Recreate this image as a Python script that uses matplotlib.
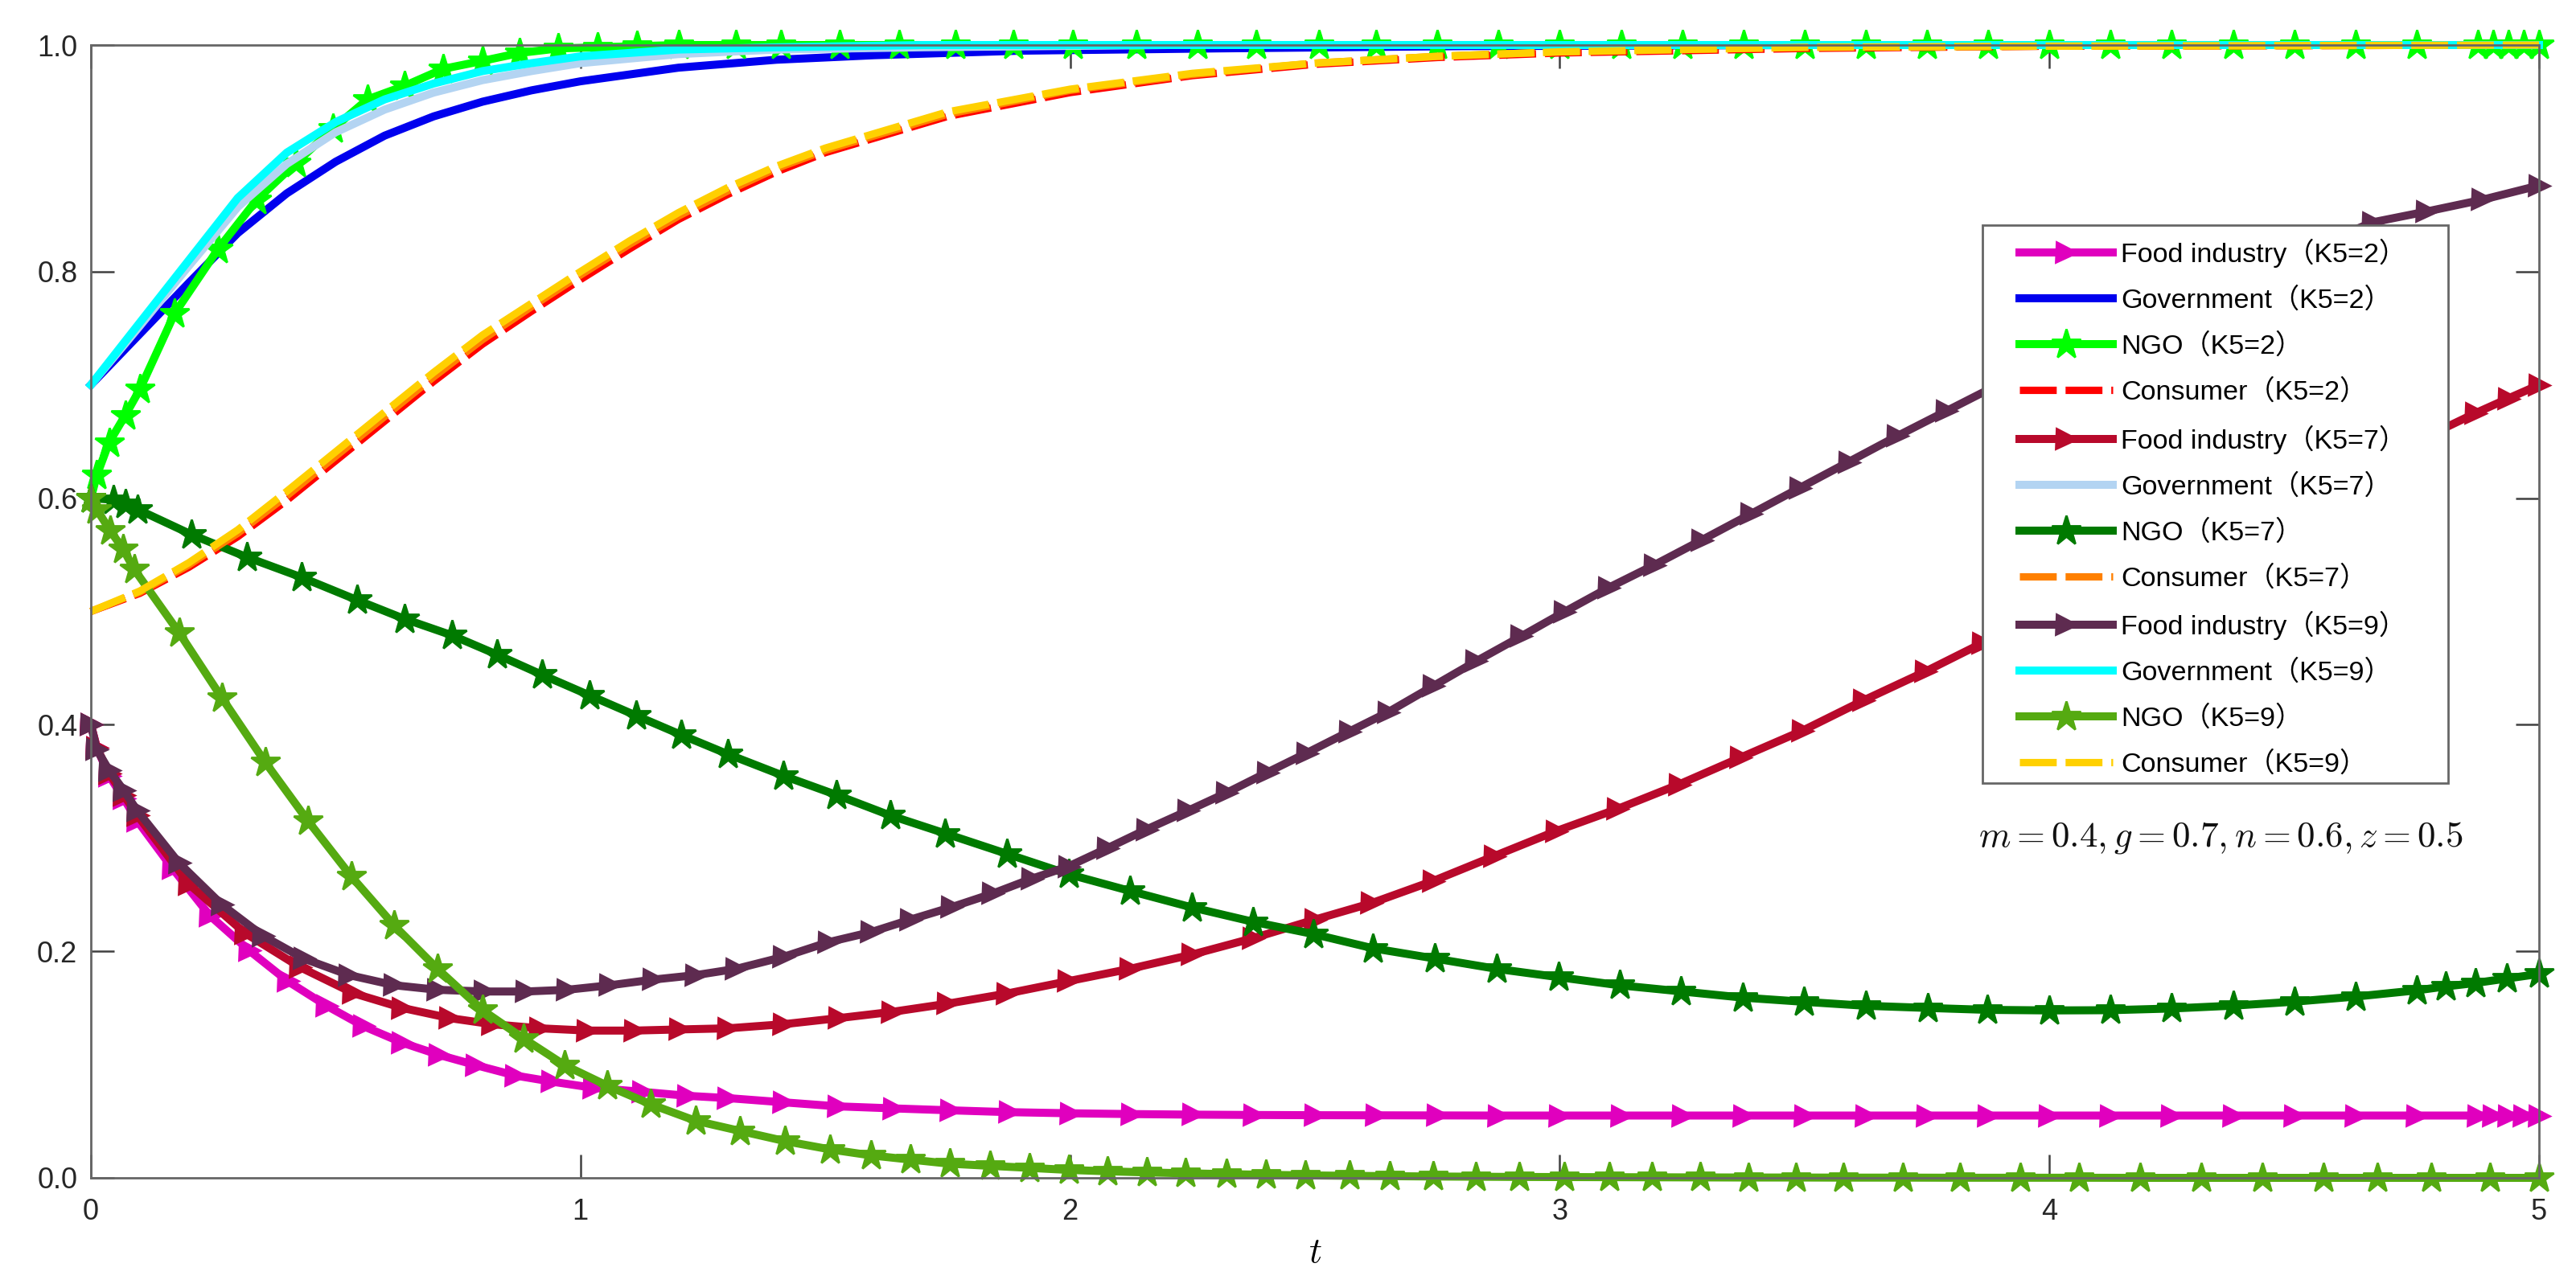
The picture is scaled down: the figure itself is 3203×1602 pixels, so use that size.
import matplotlib
matplotlib.use("Agg")
import matplotlib.pyplot as plt
from matplotlib.patches import Rectangle

plt.rcParams['font.family'] = ['Liberation Sans', 'Noto Sans CJK SC', 'DejaVu Sans']
plt.rcParams['mathtext.fontset'] = 'cm'

# ---------------- data ----------------
labels = ["Food industry（K5=2）", "Government（K5=2）", "NGO（K5=2）", "Consumer（K5=2）",
          "Food industry（K5=7）", "Government（K5=7）", "NGO（K5=7）", "Consumer（K5=7）",
          "Food industry（K5=9）", "Government（K5=9）", "NGO（K5=9）", "Consumer（K5=9）"]

# Food industry K5=2
t_food2 = [0, 0.012, 0.037, 0.067, 0.095, 0.167, 0.243, 0.323, 0.402, 0.481, 0.557, 0.636, 0.712,
           0.787, 0.867, 0.942, 1.026, 1.127, 1.219, 1.301, 1.414, 1.526, 1.64, 1.756, 1.875,
           2.0, 2.125, 2.25, 2.375, 2.5, 2.625, 2.75, 2.875, 3.0, 3.125, 3.25, 3.375, 3.5, 3.625,
           3.75, 3.875, 4.0, 4.125, 4.25, 4.375, 4.5, 4.625, 4.75, 4.875, 4.906, 4.938, 4.969, 5.0]
y_food2 = [0.4, 0.38, 0.355, 0.335, 0.315, 0.273, 0.2315, 0.2008, 0.1736, 0.152, 0.1338, 0.1193, 0.1084,
           0.0994, 0.0903, 0.0849, 0.0795, 0.0759, 0.0724, 0.0704, 0.0667, 0.0631, 0.0613, 0.0596, 0.058,
           0.057, 0.0563, 0.0558, 0.0555, 0.0553, 0.0552, 0.0551, 0.055, 0.055, 0.055, 0.055, 0.055, 0.055, 0.055,
           0.055, 0.055, 0.055, 0.055, 0.055, 0.055, 0.055, 0.055, 0.055, 0.055, 0.055, 0.055, 0.055, 0.055]

# Food industry K5=7
t_food7 = [0, 0.012, 0.037, 0.067, 0.095, 0.201, 0.315, 0.427, 0.536, 0.636, 0.733, 0.82, 0.917,
           1.014, 1.11, 1.202, 1.301, 1.414, 1.527, 1.636, 1.749, 1.871, 1.996, 2.122, 2.248, 2.374,
           2.5, 2.615, 2.741, 2.866, 2.992, 3.118, 3.244, 3.369, 3.495, 3.621, 3.747, 3.864, 3.99,
           4.115, 4.24, 4.365, 4.49, 4.62, 4.75, 4.87, 4.937, 5.0]
y_food7 = [0.4, 0.38, 0.357, 0.338, 0.32, 0.259, 0.216, 0.186, 0.163, 0.15, 0.141, 0.1356, 0.132,
           0.130, 0.130, 0.131, 0.132, 0.1356, 0.141, 0.1465, 0.1537, 0.1627, 0.1736, 0.1845, 0.197, 0.2116,
           0.228, 0.2424, 0.262, 0.284, 0.306, 0.3257, 0.3474, 0.371, 0.3946, 0.4216, 0.447, 0.4723, 0.497,
           0.522, 0.547, 0.572, 0.597, 0.623, 0.650, 0.675, 0.688, 0.70]

# Food industry K5=9
t_food9 = [0, 0.012, 0.037, 0.067, 0.095, 0.18, 0.268, 0.352, 0.435, 0.527, 0.62, 0.708, 0.804,
           0.888, 0.972, 1.06, 1.148, 1.236, 1.318, 1.414, 1.506, 1.594, 1.674, 1.758, 1.842, 1.921,
           1.997, 2.076, 2.156, 2.24, 2.32, 2.403, 2.483, 2.57, 2.649, 2.741, 2.829, 2.921, 3.009,
           3.1, 3.193, 3.29, 3.39, 3.49, 3.59, 3.69, 3.79, 3.89, 3.99, 4.09, 4.2, 4.31, 4.42, 4.54,
           4.66, 4.77, 4.884, 5.0]
y_food9 = [0.4, 0.378, 0.36, 0.342, 0.324, 0.278, 0.241, 0.2135, 0.1935, 0.179, 0.17, 0.166, 0.1645,
           0.1645, 0.166, 0.17, 0.175, 0.179, 0.1845, 0.195, 0.208, 0.217, 0.228, 0.239, 0.251, 0.264,
           0.275, 0.291, 0.3076, 0.324, 0.34, 0.358, 0.375, 0.394, 0.411, 0.434, 0.456, 0.478, 0.4995,
           0.521, 0.541, 0.563, 0.586, 0.609, 0.632, 0.655, 0.677, 0.699, 0.72, 0.74, 0.761, 0.781, 0.80, 0.822,
           0.8435, 0.853, 0.8634, 0.876]

# Government (no markers)
t_gov2 = [0, 0.1, 0.2, 0.3, 0.4, 0.5, 0.6, 0.7, 0.8, 0.9, 1.0, 1.2, 1.4, 1.6, 1.9, 2.3, 2.8, 3.5, 5.0]
y_gov2 = [0.7, 0.745, 0.79, 0.834, 0.869, 0.897, 0.92, 0.937, 0.95, 0.96, 0.968, 0.98, 0.987, 0.991,
          0.995, 0.997, 0.999, 1.0, 1.0]
t_gov7 = [0, 0.1, 0.2, 0.3, 0.4, 0.5, 0.6, 0.7, 0.8, 0.9, 1.0, 1.2, 1.4, 1.7, 2.2, 5.0]
y_gov7 = [0.7, 0.752, 0.805, 0.857, 0.895, 0.923, 0.943, 0.958, 0.969, 0.977, 0.984, 0.992, 0.996,
          0.998, 1.0, 1.0]
t_gov9 = [0, 0.1, 0.2, 0.3, 0.4, 0.5, 0.6, 0.7, 0.8, 0.9, 1.0, 1.2, 1.4, 1.7, 5.0]
y_gov9 = [0.7, 0.755, 0.81, 0.865, 0.905, 0.932, 0.952, 0.966, 0.977, 0.984, 0.99, 0.996, 0.998,
          1.0, 1.0]

# NGO K5=2
t_ngo2 = [0, 0.012, 0.037, 0.07, 0.1, 0.171, 0.26, 0.338, 0.419, 0.494, 0.565, 0.641, 0.72, 0.8,
          0.876, 0.955, 1.035, 1.115, 1.2, 1.317, 1.41, 1.53, 1.65, 1.766, 1.884, 2.005, 2.135,
          2.26, 2.38, 2.508, 2.625, 2.75, 2.875, 3.0, 3.125, 3.25, 3.375, 3.5, 3.625, 3.75, 3.875,
          4.0, 4.125, 4.25, 4.375, 4.5, 4.625, 4.75, 4.875, 4.906, 4.938, 4.969, 5.0]
y_ngo2 = [0.6, 0.62, 0.649, 0.673, 0.696, 0.763, 0.82, 0.863, 0.896, 0.926, 0.952, 0.964, 0.979, 0.986,
          0.993, 0.997, 0.998, 0.999, 1.0, 1.0, 1.0, 1.0, 1.0, 1.0, 1.0, 1.0, 1.0,
          1.0, 1.0, 1.0, 1.0, 1.0, 1.0, 1.0, 1.0, 1.0, 1.0, 1.0, 1.0, 1.0, 1.0,
          1.0, 1.0, 1.0, 1.0, 1.0, 1.0, 1.0, 1.0, 1.0, 1.0, 1.0, 1.0]

# NGO K5=7
t_ngo7 = [0, 0.046, 0.07, 0.096, 0.205, 0.318, 0.431, 0.544, 0.64, 0.737, 0.829, 0.922, 1.018,
          1.114, 1.206, 1.301, 1.414, 1.523, 1.632, 1.745, 1.871, 1.997, 2.122, 2.248, 2.374, 2.496,
          2.619, 2.745, 2.871, 2.997, 3.122, 3.248, 3.374, 3.499, 3.625, 3.751, 3.873, 4.0, 4.125,
          4.25, 4.375, 4.5, 4.625, 4.75, 4.81, 4.87, 4.935, 5.0]
y_ngo7 = [0.6, 0.5986, 0.595, 0.59, 0.568, 0.548, 0.53, 0.51, 0.4935, 0.479, 0.462, 0.444, 0.426,
          0.408, 0.391, 0.374, 0.355, 0.338, 0.32, 0.304, 0.286, 0.268, 0.2533, 0.2388, 0.226, 0.2153,
          0.2026, 0.1936, 0.1845, 0.1772, 0.17, 0.1646, 0.1591, 0.1554, 0.1519, 0.15, 0.1483, 0.1478, 0.148,
          0.1495, 0.152, 0.1555, 0.16, 0.1655, 0.169, 0.172, 0.176, 0.18]

# NGO K5=9
t_ngo9 = [0, 0.012, 0.04, 0.066, 0.088, 0.18, 0.268, 0.356, 0.444, 0.532, 0.62, 0.708, 0.8, 0.884,
          0.968, 1.055, 1.143, 1.235, 1.326, 1.418, 1.51, 1.594, 1.674, 1.754, 1.837, 1.917, 1.997,
          2.076, 2.156, 2.236, 2.32, 2.40, 2.48, 2.57, 2.653, 2.741, 2.829, 2.917, 3.009, 3.101,
          3.189, 3.286, 3.386, 3.483, 3.579, 3.7, 3.818, 3.94, 4.06, 4.185, 4.31, 4.435, 4.56,
          4.67, 4.78, 4.9, 5.0]
y_ngo9 = [0.6, 0.59, 0.571, 0.555, 0.5375, 0.4814, 0.4234, 0.367, 0.3148, 0.266, 0.2225, 0.1845, 0.148, 0.123,
          0.0994, 0.0813, 0.065, 0.0504, 0.0414, 0.0324, 0.0251, 0.0198, 0.0161, 0.0125, 0.0106, 0.0088, 0.007,
          0.0058, 0.0048, 0.004, 0.0033, 0.0027, 0.0022, 0.0018, 0.0015, 0.0012, 0.001, 0.0008, 0.0007, 0.0006,
          0.0005, 0.0004, 0.0003, 0.0003, 0.0002, 0.0002, 0.0001, 0.0001, 0.0001, 0.0, 0.0, 0.0, 0.0,
          0.0, 0.0, 0.0, 0.0]

# Consumer (no markers)
t_con = [0, 0.1, 0.2, 0.3, 0.4, 0.5, 0.6, 0.7, 0.8, 0.9, 1.0, 1.1, 1.2, 1.3, 1.4, 1.5, 1.75, 2.0,
         2.25, 2.5, 2.75, 3.0, 3.5, 4.0, 5.0]
y_con2 = [0.5, 0.516, 0.539, 0.566, 0.598, 0.633, 0.668, 0.703, 0.736, 0.765, 0.793, 0.82, 0.846, 0.868,
          0.888, 0.905, 0.937, 0.958, 0.973, 0.983, 0.989, 0.993, 0.997, 0.999, 1.0]
y_con7 = [0.5, 0.517, 0.541, 0.569, 0.602, 0.637, 0.672, 0.707, 0.74, 0.769, 0.797, 0.824, 0.849, 0.871,
          0.891, 0.907, 0.939, 0.96, 0.974, 0.984, 0.99, 0.994, 0.998, 0.999, 1.0]
y_con9 = [0.5, 0.518, 0.543, 0.572, 0.606, 0.641, 0.676, 0.711, 0.744, 0.772, 0.80, 0.827, 0.852, 0.874,
          0.893, 0.909, 0.941, 0.961, 0.975, 0.984, 0.99, 0.994, 0.998, 0.999, 1.0]

x_ticks = [0, 1, 2, 3, 4, 5]
y_ticks = [0.0, 0.2, 0.4, 0.6, 0.8, 1.0]
y_tick_labels = ["0.0", "0.2", "0.4", "0.6", "0.8", "1.0"]
annotation = r"$m=0.4,g=0.7,n=0.6,z=0.5$"

# ---------------- styles ----------------
colors = ['#E000BE', '#0000EE', '#00FF00', '#FF0000',
          '#B8092B', '#B3D4F2', '#007A00', '#FF8000',
          '#5E2B50', '#00FFFF', '#55AA11', '#FFD000']

series = [(t_food2, y_food2, '>'), (t_gov2, y_gov2, None), (t_ngo2, y_ngo2, '*'), (t_con, y_con2, 'dash'),
          (t_food7, y_food7, '>'), (t_gov7, y_gov7, None), (t_ngo7, y_ngo7, '*'), (t_con, y_con7, 'dash'),
          (t_food9, y_food9, '>'), (t_gov9, y_gov9, None), (t_ngo9, y_ngo9, '*'), (t_con, y_con9, 'dash')]

W, H = 3203, 1602
DPI = 200
PX = DPI / 72.0
fig = plt.figure(figsize=(W / DPI, H / DPI), dpi=DPI)
ax = fig.add_axes([113 / W, 1 - 1465 / H, 3044 / W, 1409 / H])

lw = 3.6
for (tt, yy, kind), c, lab in zip(series, colors, labels):
    if kind == '>':
        ax.plot(tt, yy, color=c, lw=lw, marker='>', ms=9, mec=c, mfc=c, label=lab, clip_on=False)
    elif kind == '*':
        ax.plot(tt, yy, color=c, lw=lw, marker='*', ms=14, mec=c, mfc=c, label=lab, clip_on=False)
    elif kind == 'dash':
        ax.plot(tt, yy, color=c, lw=3.3, ls=(0, (5.0, 1.2)), label=lab, clip_on=False)
    else:
        ax.plot(tt, yy, color=c, lw=lw, label=lab, clip_on=False)

ax.set_xlim(0, 5)
ax.set_ylim(0, 1)
ax.set_xticks(x_ticks)
ax.set_xticklabels([str(v) for v in x_ticks])
ax.set_yticks(y_ticks)
ax.set_yticklabels(y_tick_labels)
ax.tick_params(direction='in', length=10.5, width=0.9, color='#404040', labelcolor='#262626',
               labelsize=13, top=True, right=True)
ax.tick_params(axis='x', pad=9)
ax.tick_params(axis='y', pad=6)
for s in ax.spines.values():
    s.set_color('#666666')
    s.set_linewidth(1.0)

ax.set_xlabel(r"$t$", fontsize=16)
ax.xaxis.set_label_coords(0.5, -0.052)

fig.canvas.draw()
renderer = fig.canvas.get_renderer()

# annotation, sized so that it spans the measured width (~603 px)
ann = ax.text(3.855, 0.30, annotation, fontsize=16, ha='left', va='center', color='#111111')
w_ann = ann.get_window_extent(renderer).width
ann.set_fontsize(16 * 603.0 / w_ann)

# legend text size from the measured width of "Food industry" (~207 px)
probe = fig.text(0, 0, "Food industry", fontsize=12.5)
w_probe = probe.get_window_extent(renderer).width
probe.remove()
fs = 12.5 * 207.0 / w_probe
fs_px = fs * PX

# legend frame drawn separately
fx0 = (2465 - 113) / 3044
fx1 = (3044 - 113) / 3044
fy0 = (1465 - 974) / 1409
fy1 = (1465 - 280) / 1409
ax.add_patch(Rectangle((fx0, fy0), fx1 - fx0, fy1 - fy0, transform=ax.transAxes,
                       facecolor='white', edgecolor='#666666', lw=1.0, zorder=4))


def make_legend(spacing, top_px):
    lg = ax.legend(loc='upper left',
                   bbox_to_anchor=((2511 - 113) / 3044, (1465 - top_px) / 1409),
                   frameon=False, borderpad=0, borderaxespad=0,
                   handlelength=116.0 / fs_px, handletextpad=10.0 / fs_px,
                   labelspacing=spacing, fontsize=fs, numpoints=1)
    lg.set_zorder(5)
    return lg


spacing, top_px = 0.45, 292.0
for _ in range(3):
    leg = make_legend(spacing, top_px)
    fig.canvas.draw()
    ys = [t.get_window_extent(renderer) for t in leg.get_texts()]
    c0 = H - (ys[0].y0 + ys[0].y1) / 2.0
    c1 = H - (ys[-1].y0 + ys[-1].y1) / 2.0
    pitch = (c1 - c0) / 11.0
    spacing += (57.8 - pitch) / fs_px
    top_px += 315.0 - c0
    leg.remove()
leg = make_legend(spacing, top_px)

fig.savefig("out.png", dpi=DPI)
